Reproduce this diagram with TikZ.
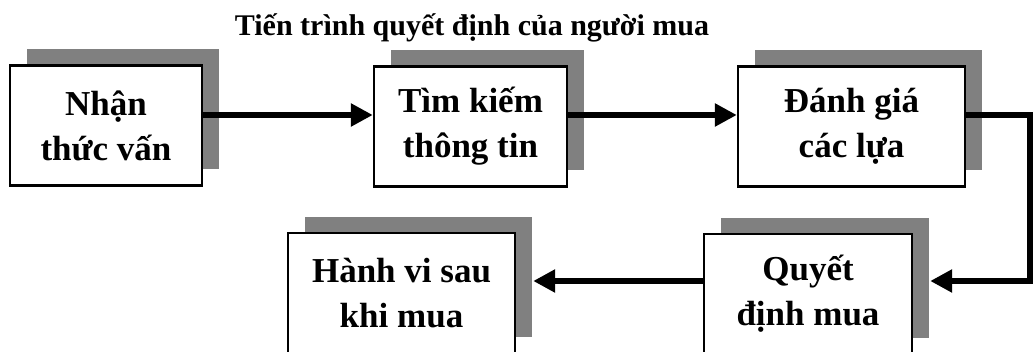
\documentclass[tikz,border=0pt]{standalone}
\usepackage{fontspec}
\setmainfont{Liberation Serif}
\usetikzlibrary{arrows.meta,shadows}

% boxes of the purchase process and the thick arrows between them
\tikzset{
  stage/.style={draw, line width=1.2pt, fill=white, align=center,
    font=\fontsize{17.5}{22.5}\selectfont\bfseries,
    minimum height=60pt, inner sep=0pt,
    drop shadow={shadow xshift=8.5pt, shadow yshift=8pt, fill=black!50, opacity=1}},
  flow/.style={line width=3pt, line join=miter,
    -{Triangle[length=11pt,width=11pt]}}
}

\begin{document}
\begin{tikzpicture}[x=0.5pt, y=-0.5pt]
  \useasboundingbox (0,0) rectangle (1033,352);
  \fill[white] (0,0) rectangle (1033,352);
  \clip (0,0) rectangle (1033,352);

  % Title
  \node[anchor=base, font=\fontsize{15}{18}\selectfont\bfseries] (title) at (472,36)
    {Tiến trình quyết định của người mua};

  % Top row
  \node[stage, minimum width=96pt]   (need)   at (106,125.5) {Nhận\\thức vấn};
  \node[stage, minimum width=96.5pt] (search) at (470.5,126.5) {Tìm kiếm\\thông tin};
  \node[stage, minimum width=113.5pt] (eval)  at (851.5,126.5) {Đánh giá\\các lựa};

  % Bottom row
  \node[stage, minimum width=104pt]   (decide) at (808,294) {Quyết\\định mua};
  \node[stage, minimum width=113.5pt] (after)  at (401.5,293) {Hành vi sau\\khi mua};

  % Connectors
  \coordinate (edge) at (1030,200);
  \draw[flow] ([yshift=5.25pt]need.east) -- ([yshift=5.75pt]search.west);
  \draw[flow] ([yshift=5.75pt]search.east) -- ([yshift=5.75pt]eval.west);
  \draw[flow] ([yshift=5.75pt]eval.east) -| (edge) |- ([xshift=8.5pt,yshift=6.5pt]decide.east);
  \draw[flow] ([yshift=6.5pt]decide.west) -- ([xshift=8.5pt,yshift=6pt]after.east);
\end{tikzpicture}
\end{document}
